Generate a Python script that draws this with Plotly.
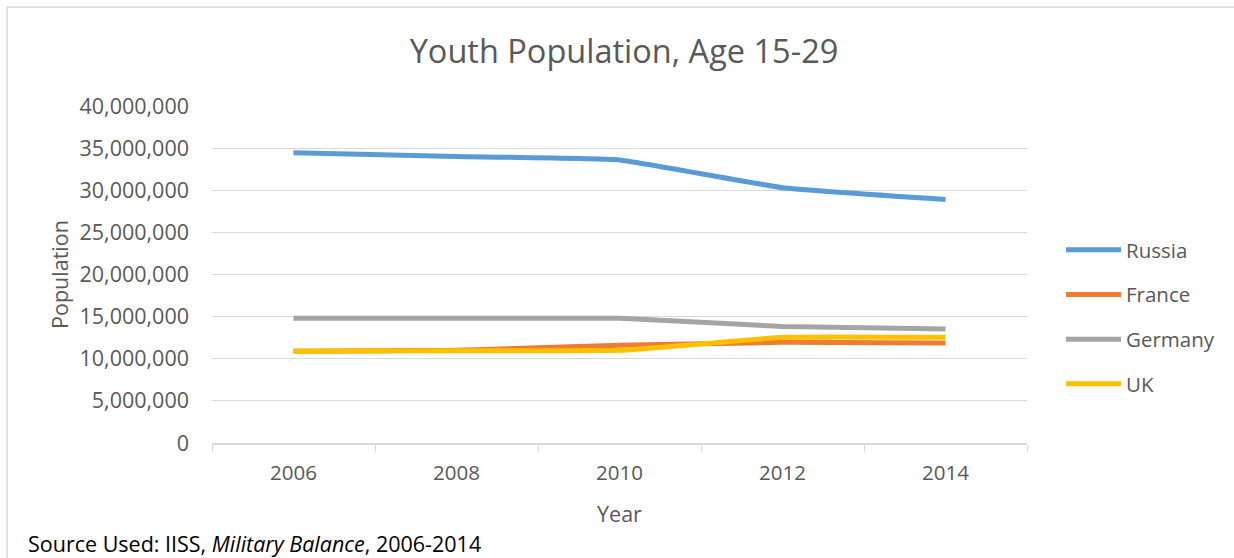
import plotly.graph_objects as go

years = ["2006", "2008", "2010", "2012", "2014"]
russia = [34.45e6, 34.0e6, 33.6e6, 30.3e6, 28.9e6]
france = [10.9e6, 11.0e6, 11.6e6, 11.95e6, 11.87e6]
germany = [14.8e6, 14.8e6, 14.8e6, 13.83e6, 13.52e6]
uk = [10.9e6, 10.95e6, 11.0e6, 12.54e6, 12.54e6]
y_ticks = [0, 5e6, 10e6, 15e6, 20e6, 25e6, 30e6, 35e6, 40e6]
y_tick_labels = ["0", "5,000,000", "10,000,000", "15,000,000", "20,000,000",
                 "25,000,000", "30,000,000", "35,000,000", "40,000,000"]

series = [("Russia", russia, "#5b9bd5"), ("France", france, "#ed7d31"),
          ("Germany", germany, "#a5a5a5"), ("UK", uk, "#ffc000")]

FONT = "Open Sans"
GRAY = "#595959"

fig = go.Figure()
for i, (name, vals, color) in enumerate(series):
    fig.add_trace(go.Scatter(
        x=years, y=vals, name=name, mode="lines",
        line=dict(color=color, width=5, shape="spline", smoothing=0.3),
        legendgroup=f"g{i}",
    ))

W, H = 1234, 558
L, R, T, B = 212, 1027, 106, 443
pw, ph = R - L, B - T

def px(x):
    return (x - L) / pw

def py(y):
    return (B - y) / ph

border = dict(color="#d9d9d9", width=1.5)

fig.update_layout(
    width=W, height=H,
    margin=dict(l=L, r=W - R, t=T, b=H - B),
    paper_bgcolor="white", plot_bgcolor="white",
    font=dict(family=FONT, color=GRAY, size=20),
    title=dict(text="Youth Population, Age 15-29", x=624 / W, xref="container",
               xanchor="center", y=1 - 52 / H, yanchor="middle",
               font=dict(size=32.5, color=GRAY, family=FONT)),
    showlegend=True,
    legend=dict(x=px(1061), y=py(317), xanchor="left", yanchor="middle",
                font=dict(size=20.5, color=GRAY, family=FONT),
                tracegroupgap=15, bgcolor="rgba(0,0,0,0)",
                itemwidth=55),
    xaxis=dict(type="category", range=[-0.5, 4.5], tickson="boundaries",
               ticks="outside", ticklen=7, tickcolor="#d9d9d9", tickwidth=1,
               showline=True, linecolor="#d9d9d9", linewidth=1.5,
               showgrid=False, zeroline=False, fixedrange=True,
               tickfont=dict(size=20.5, color=GRAY),
               ticklabelstandoff=11,
               title=dict(text="Year", font=dict(size=21.5, color=GRAY), standoff=22)),
    yaxis=dict(range=[0, 40e6], tickvals=y_ticks, ticktext=y_tick_labels,
               showgrid=True, gridcolor="#d9d9d9", gridwidth=1,
               showline=False, zeroline=False, ticks="", fixedrange=True,
               tickfont=dict(size=21.5, color=GRAY),
               ticklabelstandoff=22,
               title=dict(text="Population", font=dict(size=21.5, color=GRAY), standoff=4)),
    shapes=[dict(type="line", xref="paper", yref="paper",
                 x0=px(7), x1=px(1300), y0=py(7), y1=py(7), line=border, layer="below"),
            dict(type="line", xref="paper", yref="paper",
                 x0=px(7), x1=px(7), y0=py(7), y1=py(600), line=border, layer="below")],
    annotations=[dict(text="Source Used: IISS, <i>Military Balance</i>, 2006-2014",
                      xref="paper", yref="paper", x=px(26), y=py(560),
                      xanchor="left", yanchor="bottom", showarrow=False,
                      font=dict(size=21.5, color="black", family=FONT))],
)

fig.write_html("out.html", config={"displayModeBar": False},
               post_script="document.body.style.margin='0';document.body.style.overflow='hidden';")
